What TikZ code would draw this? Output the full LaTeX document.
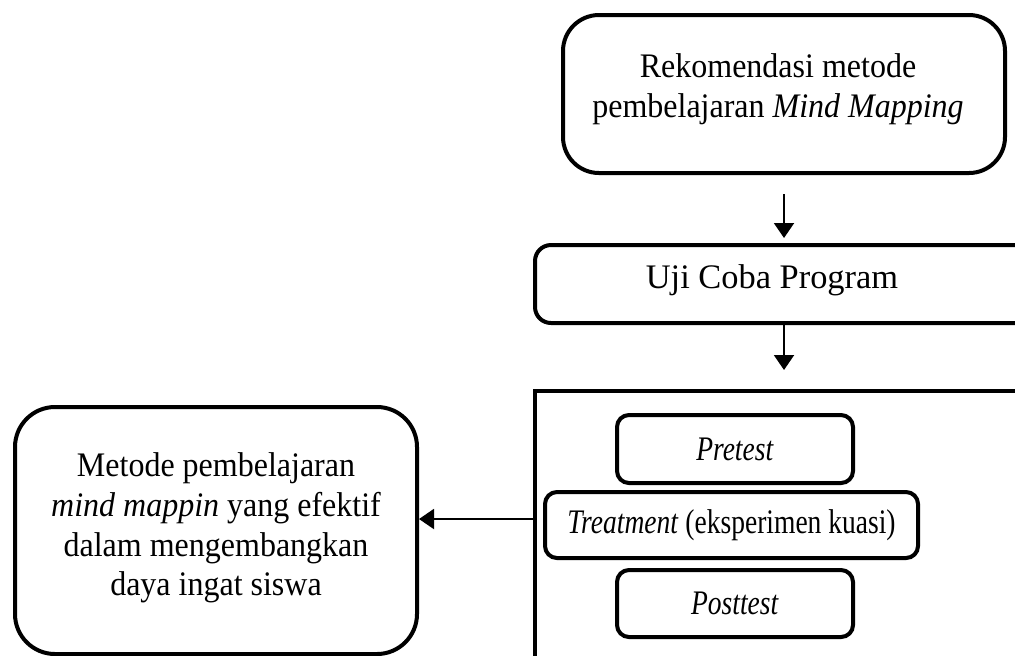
\documentclass[tikz,border=0pt]{standalone}
\usepackage{fontspec}
\setmainfont{Liberation Serif}
\newfontfamily\widefont[FakeStretch=0.93]{Liberation Serif}
\newfontfamily\narrowfont[FakeStretch=0.8]{Liberation Serif}
\usetikzlibrary{positioning,arrows.meta}

\begin{document}
\begin{tikzpicture}[x=0.5pt,y=-0.5pt,
    box/.style={draw, line width=2pt, rounded corners=#1, inner sep=0pt},
    box/.default=6pt,
    txt/.style={align=center, font=\fontsize{17.2}{19.8}\selectfont\widefont, inner sep=0pt},
    smalltxt/.style={align=center, font=\fontsize{17.2}{19.8}\selectfont\narrowfont, inner sep=0pt},
    arr/.style={line width=1pt, -{Triangle[width=10pt,length=7.5pt]}}]
    \useasboundingbox (0,0) rectangle (1015,655);
    \clip (0,0) rectangle (1015,655);

    % Top box
    \node[box=18pt, minimum width=221pt, minimum height=79pt] (rek) at (784,94) {};
    \node[txt] (rektxt) at (778,89) {Rekomendasi metode\\pembelajaran \textit{Mind Mapping}};

    % Program test
    \node[box=8pt, minimum width=252.5pt, minimum height=39pt] (uji) at (787.5,284) {};
    \node[txt, font=\fontsize{17.2}{19.8}\selectfont] (ujitxt) at (772,280) {Uji Coba Program};

    % Experiment group
    \node[draw, line width=2pt, minimum width=282.5pt, minimum height=164.5pt] (grp) at (817.5,555.5) {};
    \node[box, smalltxt, minimum width=118pt, minimum height=34pt] (pre) at (735,449) {\textit{Pretest}};
    \node[box, smalltxt, minimum width=186.5pt, minimum height=33pt] (treat) at (731.5,525) {\textit{Treatment} (eksperimen kuasi)};
    \node[box, smalltxt, minimum width=118pt, minimum height=33.5pt] (post) at (735,603.5) {\textit{Posttest}};

    % Result
    \node[box=20pt, minimum width=201pt, minimum height=123.5pt] (hasil) at (216,530.5) {};
    \node[txt] (hasiltxt) at (216,528) {Metode pembelajaran\\\textit{mind mappin} yang efektif\\dalam mengembangkan\\daya ingat siswa};

    % Connections
    \coordinate (tap) at (535,519);
    \draw[arr, shorten <=9.5pt, shorten >=2.5pt] (rek.south) -- (rek.south |- uji.north);
    \draw[arr, shorten >=9.5pt] (rek.south |- uji.south) -- (rek.south |- grp.north);
    \draw[arr] (tap) -- (tap -| hasil.east);
\end{tikzpicture}
\end{document}
